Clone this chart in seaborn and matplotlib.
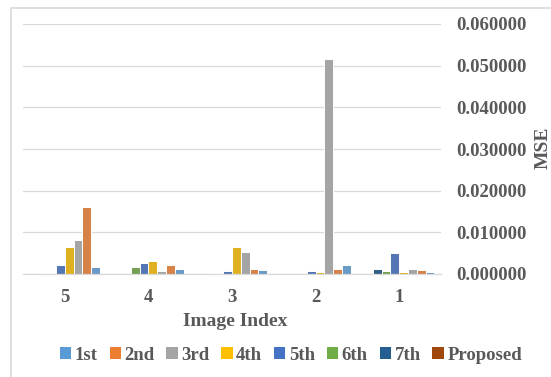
import matplotlib
matplotlib.use("Agg")
import matplotlib.pyplot as plt
from matplotlib.lines import Line2D
from matplotlib.patches import Patch
import seaborn as sns
import pandas as pd

# MSE per image index for each method
image_index = ["1", "2", "3", "4", "5"]
methods = ["1st", "2nd", "3rd", "4th", "5th", "6th", "7th", "Proposed"]
mse_1st = [0.0006, 0.0021, 0.0010, 0.0012, 0.0016]
mse_2nd = [0.0010, 0.0012, 0.0012, 0.0021, 0.0160]
mse_3rd = [0.0012, 0.0517, 0.0052, 0.0007, 0.0082]
mse_4th = [0.0006, 0.0006, 0.0064, 0.0032, 0.0064]
mse_5th = [0.0050, 0.0007, 0.0007, 0.0026, 0.0021]
mse_6th = [0.0007, 0.0001, 0.0002, 0.0017, 0.0002]
mse_7th = [0.0012, 0.0001, 0.0002, 0.0002, 0.0002]
mse_proposed = [0.00002, 0.00002, 0.00003, 0.00003, 0.00005]
y_ticks = [0.0, 0.01, 0.02, 0.03, 0.04, 0.05, 0.06]

colors = ["#5B9BD5", "#ED7D31", "#A5A5A5", "#FFC000",
          "#4472C4", "#70AD47", "#255E91", "#9E480E"]

series = [mse_1st, mse_2nd, mse_3rd, mse_4th, mse_5th, mse_6th, mse_7th, mse_proposed]
rows = []
for name, vals in zip(methods, series):
    for idx, v in zip(image_index, vals):
        rows.append({"Image Index": idx, "Method": name, "MSE": v})
df = pd.DataFrame(rows)

sns.set_style("white")
plt.rcParams["font.family"] = ["Liberation Serif", "DejaVu Serif"]
plt.rcParams["font.weight"] = "bold"
text_color = "#595959"
grid_color = "#D9D9D9"

W, H = 551, 377
fig = plt.figure(figsize=(W / 100, H / 100), dpi=100)
ax = fig.add_axes([23 / W, 1 - 274 / H, (441 - 23) / W, (274 - 24) / H])

sns.barplot(data=df, x="Image Index", y="MSE", hue="Method",
            order=image_index, hue_order=methods, palette=colors,
            width=0.84, edgecolor="white", linewidth=0.7,
            ax=ax, legend=False)

ax.invert_xaxis()
ax.set_ylim(0, 0.06)
ax.set_yticks(y_ticks)
ax.set_yticklabels([f"{t:.6f}" for t in y_ticks])
ax.yaxis.tick_right()
ax.yaxis.grid(True, color=grid_color, linewidth=0.9)
ax.set_axisbelow(True)
for s in ["top", "left", "right"]:
    ax.spines[s].set_visible(False)
ax.spines["bottom"].set_color(grid_color)
ax.spines["bottom"].set_linewidth(0.9)
ax.tick_params(axis="both", length=0, colors=text_color, labelsize=13.5)
ax.tick_params(axis="y", pad=11)
ax.tick_params(axis="x", pad=11)
for lab in ax.get_xticklabels() + ax.get_yticklabels():
    lab.set_fontweight("bold")
ax.set_xlabel("")
ax.set_ylabel("")

fig.text(235 / W, 1 - 322 / H, "Image Index", ha="center", va="center",
         fontsize=14, fontweight="bold", color=text_color)
fig.text(543 / W, 1 - 148 / H, "MSE", ha="center", va="center", rotation=90,
         fontsize=14, fontweight="bold", color=text_color)

handles = [Patch(facecolor=c, edgecolor="none") for c in colors]
leg = fig.legend(handles, methods, loc="center", ncol=8,
                 bbox_to_anchor=(291 / W, 1 - 355 / H), frameon=False,
                 handlelength=0.6, handleheight=0.6, handletextpad=0.2,
                 columnspacing=0.62, borderpad=0, borderaxespad=0,
                 prop={"size": 13.5, "weight": "bold"})
for t in leg.get_texts():
    t.set_color(text_color)

# outer chart frame
fig.add_artist(Line2D([11 / W, 11 / W, 1.0], [0.0, 1 - 8 / H, 1 - 8 / H],
                      transform=fig.transFigure, color=grid_color, linewidth=1.2))

fig.savefig("out.png", dpi=100)
